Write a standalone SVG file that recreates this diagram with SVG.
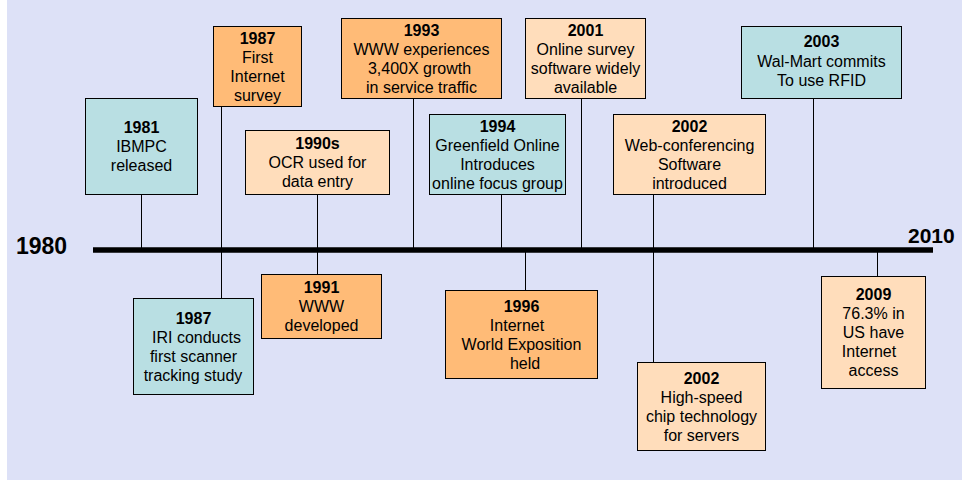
<svg xmlns="http://www.w3.org/2000/svg" width="969" height="480" viewBox="0 0 969 480">
<style>
.box{stroke:#000;stroke-width:1}
.teal{fill:#B9DFE3}
.orange{fill:#FFBB77}
.peach{fill:#FFDDBB}
text{font-family:"Liberation Sans",Arial,sans-serif;font-size:16px;fill:#000;text-anchor:middle}
.yr{font-weight:bold}
.end{font-weight:bold;font-size:23px;text-anchor:start}
.conn line{stroke:#000;stroke-width:1}
</style>
<rect x="7" y="0" width="955" height="480" fill="#DDE1F7"/>
<g id="connectors" class="conn">
<line x1="141.5" y1="194.5" x2="141.5" y2="250"/>
<line x1="221.5" y1="106.5" x2="221.5" y2="298.5"/>
<line x1="317.5" y1="194.5" x2="317.5" y2="274.5"/>
<line x1="413.5" y1="98.5" x2="413.5" y2="250"/>
<line x1="501.5" y1="194.5" x2="501.5" y2="250"/>
<line x1="581.5" y1="98.5" x2="581.5" y2="250"/>
<line x1="653.5" y1="194.5" x2="653.5" y2="362.5"/>
<line x1="813.5" y1="98.5" x2="813.5" y2="250"/>
<line x1="525.5" y1="250" x2="525.5" y2="290.5"/>
<line x1="877.5" y1="250" x2="877.5" y2="276.5"/>
</g>
<g id="axis">
<line x1="93" y1="250" x2="933" y2="250" stroke="#000" stroke-width="5.5"/>
<text class="end" x="16" y="254">1980</text>
<text class="end" x="908" y="243" style="font-size:21px">2010</text>
</g>
<g id="n1981">
<rect class="box teal" x="85.5" y="98.5" width="112" height="96"/>
<text class="yr" x="141.5" y="133">1981</text>
<text x="141.5" y="152">IBMPC</text>
<text x="141.5" y="171">released</text>
</g>
<g id="n1987a">
<rect class="box orange" x="213.5" y="26.5" width="88" height="80"/>
<text class="yr" x="257.5" y="44">1987</text>
<text x="257.5" y="63">First</text>
<text x="257.5" y="82">Internet</text>
<text x="257.5" y="101">survey</text>
</g>
<g id="n1990s">
<rect class="box peach" x="245.5" y="130.5" width="144" height="64"/>
<text class="yr" x="317.5" y="149">1990s</text>
<text x="317.5" y="168">OCR used for</text>
<text x="317.5" y="187">data entry</text>
</g>
<g id="n1993">
<rect class="box orange" x="341.5" y="18.5" width="160" height="80"/>
<text class="yr" x="421.5" y="36">1993</text>
<text x="421.5" y="55">WWW experiences</text>
<text x="419.5" y="74">3,400X growth</text>
<text x="421.5" y="93">in service traffic</text>
</g>
<g id="n2001">
<rect class="box peach" x="525.5" y="18.5" width="120" height="80"/>
<text class="yr" x="585.5" y="36">2001</text>
<text x="585.5" y="55">Online survey</text>
<text x="585.5" y="74">software widely</text>
<text x="585.5" y="93">available</text>
</g>
<g id="n1994">
<rect class="box teal" x="429.5" y="114.5" width="136" height="80"/>
<text class="yr" x="497.5" y="132">1994</text>
<text x="497.5" y="151">Greenfield Online</text>
<text x="497.5" y="170">Introduces</text>
<text x="497.5" y="189">online focus group</text>
</g>
<g id="n2002a">
<rect class="box peach" x="613.5" y="114.5" width="152" height="80"/>
<text class="yr" x="689.5" y="132">2002</text>
<text x="689.5" y="151">Web-conferencing</text>
<text x="689.5" y="170">Software</text>
<text x="689.5" y="189">introduced</text>
</g>
<g id="n2003">
<rect class="box teal" x="741.5" y="26.5" width="160" height="72"/>
<text class="yr" x="821.5" y="47">2003</text>
<text x="821.5" y="66.5">Wal-Mart commits</text>
<text x="821.5" y="86">To use RFID</text>
</g>
<g id="n1987b">
<rect class="box teal" x="133.5" y="298.5" width="120" height="96"/>
<text class="yr" x="193.5" y="324">1987</text>
<text x="196.5" y="343">IRI conducts</text>
<text x="193.5" y="362">first scanner</text>
<text x="193" y="381">tracking study</text>
</g>
<g id="n1991">
<rect class="box orange" x="261.5" y="274.5" width="120" height="64"/>
<text class="yr" x="321.5" y="293">1991</text>
<text x="321.5" y="312">WWW</text>
<text x="321.5" y="331">developed</text>
</g>
<g id="n1996">
<rect class="box orange" x="445.5" y="290.5" width="152" height="88"/>
<text class="yr" x="521.5" y="312">1996</text>
<text x="517" y="331">Internet</text>
<text x="521.5" y="350">World Exposition</text>
<text x="525" y="369">held</text>
</g>
<g id="n2002b">
<rect class="box peach" x="637.5" y="362.5" width="128" height="88"/>
<text class="yr" x="701.5" y="384">2002</text>
<text x="701.5" y="403">High-speed</text>
<text x="701.5" y="422">chip technology</text>
<text x="701.5" y="441">for servers</text>
</g>
<g id="n2009">
<rect class="box peach" x="821.5" y="276.5" width="104" height="112"/>
<text class="yr" x="873.5" y="300">2009</text>
<text x="873.5" y="319">76.3% in</text>
<text x="873.5" y="338">US have</text>
<text x="869" y="357">Internet</text>
<text x="873.5" y="376">access</text>
</g>
</svg>
